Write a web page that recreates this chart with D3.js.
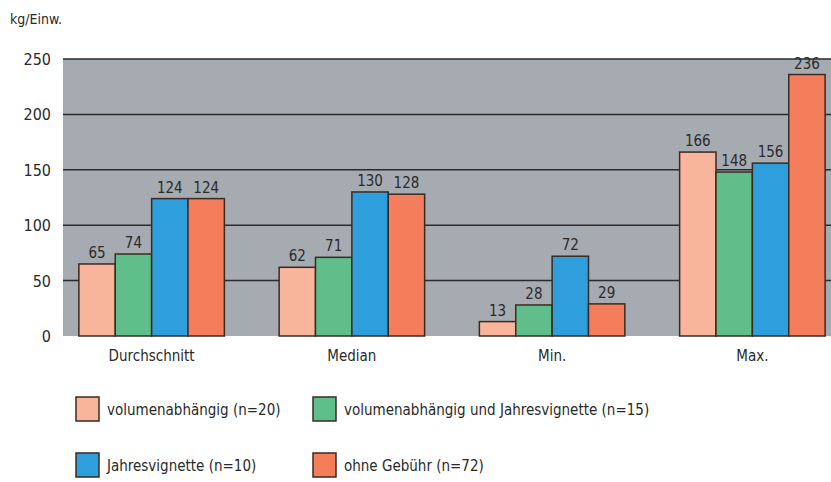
<!DOCTYPE html>
<html>
<head>
<meta charset="utf-8">
<script src="https://cdn.jsdelivr.net/npm/d3@7"></script>
<style>
  body { margin: 0; background: #fff; }
  svg text { font-family: "DejaVu Sans Condensed", "DejaVu Sans", sans-serif; font-stretch: condensed; fill: #2a2a2a; }
</style>
</head>
<body>
<svg width="831" height="482"></svg>
<script>
var categories = ["Durchschnitt", "Median", "Min.", "Max."];
var seriesNames = ["volumenabhängig (n=20)", "volumenabhängig und Jahresvignette (n=15)",
                   "Jahresvignette (n=10)", "ohne Gebühr (n=72)"];
var volumen = [65, 62, 13, 166];
var volumenVignette = [74, 71, 28, 148];
var vignette = [124, 130, 72, 156];
var ohne = [124, 128, 29, 236];
var yTicks = [0, 50, 100, 150, 200, 250];
var colors = ["#f9b59c", "#5fbe89", "#2e9fdc", "#f47e5b"];

var series = [volumen, volumenVignette, vignette, ohne];

var svg = d3.select("svg");

var plotLeft = 63, plotRight = 831, plotTop = 59, plotBottom = 336;

var y = d3.scaleLinear().domain([0, 250]).range([plotBottom, plotTop]);

// group centres are spaced wider than the visible plot
var x0 = d3.scaleBand().domain(categories).range([51.5, 852.5]).paddingInner(0).paddingOuter(0);
var x1 = d3.scaleBand().domain(d3.range(series.length)).range([0, 145.5]);
var groupOffset = (x0.bandwidth() - 145.5) / 2;

// background
svg.append("rect")
    .attr("x", plotLeft).attr("y", plotTop)
    .attr("width", plotRight - plotLeft).attr("height", plotBottom - plotTop)
    .attr("fill", "#a6abb1");

// gridlines
svg.append("g").selectAll("line")
    .data(yTicks.filter(function(d) { return d > 0; }))
    .enter().append("line")
    .attr("x1", plotLeft).attr("x2", plotRight)
    .attr("y1", function(d) { return y(d); })
    .attr("y2", function(d) { return y(d); })
    .attr("stroke", "#2b2b2b")
    .attr("stroke-width", 1.5);

// y axis labels
svg.append("g").selectAll("text")
    .data(yTicks)
    .enter().append("text")
    .attr("x", 51)
    .attr("y", function(d) { return y(d) + 6; })
    .attr("text-anchor", "end")
    .style("font-size", "16px")
    .text(function(d) { return d; });

svg.append("text")
    .attr("x", 10).attr("y", 24)
    .style("font-size", "14px")
    .text("kg/Einw.");

// bars
var groups = svg.append("g").selectAll("g")
    .data(categories)
    .enter().append("g")
    .attr("transform", function(d) { return "translate(" + (x0(d) + groupOffset) + ",0)"; });

groups.selectAll("rect")
    .data(function(d, i) { return series.map(function(s, k) { return { k: k, v: s[i] }; }); })
    .enter().append("rect")
    .attr("x", function(d) { return x1(d.k); })
    .attr("y", function(d) { return y(d.v); })
    .attr("width", x1.bandwidth())
    .attr("height", function(d) { return y(0) - y(d.v); })
    .attr("fill", function(d) { return colors[d.k]; })
    .attr("stroke", "#3a2a22")
    .attr("stroke-width", 1.5);

groups.selectAll("text.val")
    .data(function(d, i) { return series.map(function(s, k) { return { k: k, v: s[i] }; }); })
    .enter().append("text")
    .attr("class", "val")
    .attr("x", function(d) { return x1(d.k) + x1.bandwidth() / 2; })
    .attr("y", function(d) { return y(d.v) - 6; })
    .attr("text-anchor", "middle")
    .style("font-size", "15px")
    .text(function(d) { return d.v; });

// category labels
svg.append("g").selectAll("text")
    .data(categories)
    .enter().append("text")
    .attr("x", function(d) { return x0(d) + x0.bandwidth() / 2; })
    .attr("y", 361)
    .attr("text-anchor", "middle")
    .style("font-size", "15px")
    .text(function(d) { return d; });

// legend
var legendPos = [[76, 397], [313, 397], [76, 453], [313, 453]];
var legend = svg.append("g").selectAll("g")
    .data(seriesNames)
    .enter().append("g")
    .attr("transform", function(d, i) { return "translate(" + legendPos[i][0] + "," + legendPos[i][1] + ")"; });

legend.append("rect")
    .attr("width", 23).attr("height", 24)
    .attr("fill", function(d, i) { return colors[i]; })
    .attr("stroke", "#3a2a22")
    .attr("stroke-width", 1.5);

legend.append("text")
    .attr("x", 31).attr("y", 18)
    .style("font-size", "15px")
    .text(function(d) { return d; });
</script>
</body>
</html>
